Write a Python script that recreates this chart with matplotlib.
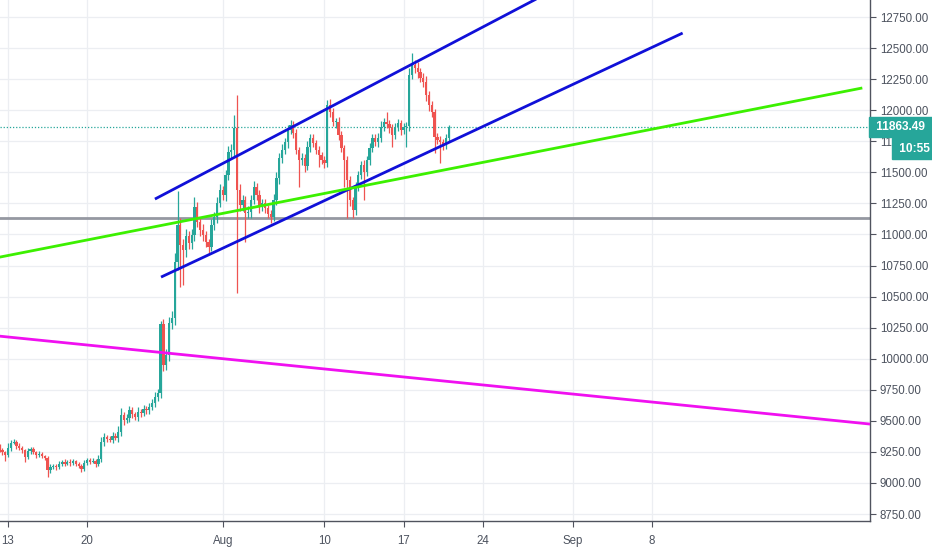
import numpy as np
import matplotlib
matplotlib.use('Agg')
import matplotlib.pyplot as plt
import matplotlib.transforms as mtransforms

# DATA  (x axis in days, day 0 = Jul 13, one candle every 6 hours)
first_day = -0.75
step = 0.25
first_open = 9281

closes = [
    9265, 9249, 9225, 9281, 9322, 9330, 9297, 9281, 9265, 9209,
    9257, 9273, 9249, 9225, 9233, 9217, 9201, 9104, 9128, 9136,
    9128, 9153, 9169, 9153, 9169, 9161, 9177, 9153, 9136, 9112,
    9161, 9185, 9169, 9177, 9153, 9193, 9330, 9370, 9354, 9346,
    9378, 9362, 9410, 9547, 9507, 9523, 9587, 9555, 9531, 9571,
    9563, 9595, 9587, 9611, 9644, 9692, 9724, 10280, 9950, 10030,
    10287, 10328, 10778, 11076, 10915, 10875, 10987, 10931, 10996, 11221,
    11100, 11036, 10996, 10939, 10899, 11076, 11140, 11253, 11358, 11317,
    11478, 11664, 11680, 11857, 11358, 11237, 11277, 11172, 11181, 11277,
    11382, 11317, 11221, 11253, 11213, 11164, 11140, 11277, 11454, 11615,
    11680, 11744, 11841, 11881, 11816, 11680, 11599, 11615, 11551, 11704,
    11776, 11736, 11680, 11639, 11599, 11575, 12042, 11985, 11905, 11905,
    11800, 11696, 11599, 11438, 11277, 11197, 11382, 11478, 11559, 11502,
    11599, 11696, 11776, 11744, 11776, 11865, 11905, 11889, 11857, 11800,
    11865, 11897, 11841, 11865, 11873, 12283, 12364, 12340, 12307, 12259,
    12227, 12122, 12042, 11985, 11784, 11760, 11744, 11720, 11776, 11863.49,
]

# upper / lower wick length above / below the body
wick_up = [
    30, 18, 12, 40, 25, 20, 15, 22, 18, 10,
    28, 20, 15, 12, 25, 18, 10, 20, 22, 15,
    18, 20, 12, 25, 15, 22, 18, 10, 15, 20,
    25, 18, 15, 22, 12, 30, 40, 35, 20, 25,
    30, 22, 45, 60, 25, 30, 35, 28, 20, 40,
    25, 30, 22, 35, 30, 40, 35, 25, 40, 45,
    50, 60, 70, 274, 60, 45, 55, 40, 50, 80,
    40, 35, 45, 30, 25, 45, 40, 50, 45, 35,
    40, 50, 45, 104, 265, 45, 40, 35, 45, 40,
    45, 35, 40, 30, 35, 25, 30, 45, 50, 40,
    45, 35, 40, 40, 30, 35, 25, 40, 30, 45,
    35, 30, 25, 30, 25, 30, 40, 45, 35, 30,
    40, 30, 25, 30, 35, 25, 40, 35, 30, 40,
    35, 40, 30, 35, 40, 45, 35, 80, 30, 35,
    30, 35, 25, 30, 35, 60, 96, 40, 45, 35,
    40, 45, 35, 30, 25, 30, 35, 25, 30, 20,
]
wick_dn = [
    15, 20, 48, 18, 25, 12, 20, 15, 22, 40,
    15, 20, 18, 25, 12, 20, 15, 56, 20, 18,
    22, 15, 18, 20, 12, 25, 15, 20, 18, 22,
    15, 20, 18, 12, 25, 20, 25, 30, 22, 18,
    25, 20, 30, 35, 40, 25, 30, 35, 25, 30,
    30, 25, 35, 30, 25, 35, 30, 40, 45, 40,
    45, 50, 55, 60, 338, 282, 60, 45, 50, 45,
    40, 50, 45, 40, 48, 35, 40, 45, 35, 40,
    45, 40, 50, 45, 829, 50, 45, 233, 40, 45,
    35, 40, 45, 35, 40, 30, 48, 35, 40, 45,
    40, 35, 45, 30, 40, 35, 217, 40, 45, 35,
    40, 35, 30, 96, 35, 40, 30, 40, 35, 45,
    40, 35, 217, 306, 45, 65, 40, 35, 30, 225,
    35, 40, 30, 35, 40, 35, 30, 35, 40, 96,
    30, 35, 40, 30, 161, 40, 35, 40, 45, 35,
    40, 45, 50, 40, 128, 35, 169, 40, 35, 30,
]

# trend lines: (day0, price0, day1, price1)
channel_top = (13.0, 11285, 48.0, 12955)
channel_bottom = (13.54, 10657, 59.7, 12621)
green_line = (-1.0, 10813, 75.6, 12179)
magenta_line = (-1.0, 10184, 76.3, 9474)
gray_level = 11132

xtick_days = [0, 7, 19, 28, 35, 42, 50, 57]
xtick_labels = ['13', '20', 'Aug', '10', '17', '24', 'Sep', '8']
ytick_values = np.arange(8750, 12751, 250)
last_price = closes[-1]
countdown = '10:55'

# COLOURS
up_col = '#26a69a'
dn_col = '#ef5350'
text_col = '#4c525e'
grid_col = '#eceef2'

# CANDLES
closes = np.array(closes, dtype=float)
opens = np.concatenate([[first_open], closes[:-1]])
days = first_day + step * np.arange(len(closes))
highs = np.maximum(opens, closes) + np.array(wick_up)
lows = np.minimum(opens, closes) - np.array(wick_dn)
colors = np.where(closes >= opens, up_col, dn_col)

fig = plt.figure(figsize=(9.32, 5.5), dpi=100)
ax = fig.add_axes([0, 29 / 550, 870 / 932, 521 / 550])

ax.set_xlim(-0.71, 76.28)
ax.set_ylim(8694, 12887)

# grid
for d in xtick_days:
    ax.axvline(d, color=grid_col, lw=0.9, zorder=0)
for v in ytick_values:
    ax.axhline(v, color=grid_col, lw=0.9, zorder=0)

ax.vlines(days, lows, highs, colors=colors, lw=0.9, zorder=2)
body_bottom = np.minimum(opens, closes)
body_height = np.maximum(np.abs(closes - opens), 5)
ax.bar(days, body_height, bottom=body_bottom, width=0.2, color=colors,
       linewidth=0, zorder=3)

# DRAWINGS
ax.axhline(gray_level, color='#9598a1', lw=2, zorder=1)
for seg, col in [(channel_top, '#1010d8'), (channel_bottom, '#1010d8'),
                 (green_line, '#3cf000'), (magenta_line, '#f010f0')]:
    ax.plot([seg[0], seg[2]], [seg[1], seg[3]], color=col, lw=2, zorder=4,
            solid_capstyle='butt')

# last price line
ax.axhline(last_price, color=up_col, lw=0.9, ls=(0, (1, 1.5)), zorder=1)

# AXES
for s in ['top', 'left']:
    ax.spines[s].set_visible(False)
for s in ['bottom', 'right']:
    ax.spines[s].set_color('#50535e')
    ax.spines[s].set_linewidth(1)

ax.yaxis.tick_right()
ax.set_yticks(ytick_values)
ax.set_yticklabels(['%.2f' % v for v in ytick_values])
ax.set_xticks(xtick_days)
ax.set_xticklabels(xtick_labels)
ax.tick_params(axis='both', colors='#50535e', labelcolor=text_col,
               labelsize=8.3, length=4, width=0.8)
ax.tick_params(axis='y', pad=3)
ax.tick_params(axis='x', pad=6)
for lab in ax.get_xticklabels() + ax.get_yticklabels():
    lab.set_fontfamily('Liberation Sans')

# price label and countdown on the scale
trans = mtransforms.blended_transform_factory(ax.transAxes, ax.transData)
ax.text(1.0 + 3 / 870, last_price, ' %.2f ' % last_price, transform=trans,
        ha='left', va='center', color='white', fontsize=8.6, fontweight='bold',
        family='Liberation Sans', clip_on=False, zorder=10,
        bbox=dict(boxstyle='square,pad=0.35', fc=up_col, ec=up_col))
ax.text(1.0 + 26 / 870, last_price - 172, ' ' + countdown + ' ', transform=trans,
        ha='left', va='center', color='white', fontsize=8.6, fontweight='bold',
        family='Liberation Sans', clip_on=False, zorder=10,
        bbox=dict(boxstyle='square,pad=0.35', fc=up_col, ec=up_col))

fig.savefig('out.png', dpi=100)
